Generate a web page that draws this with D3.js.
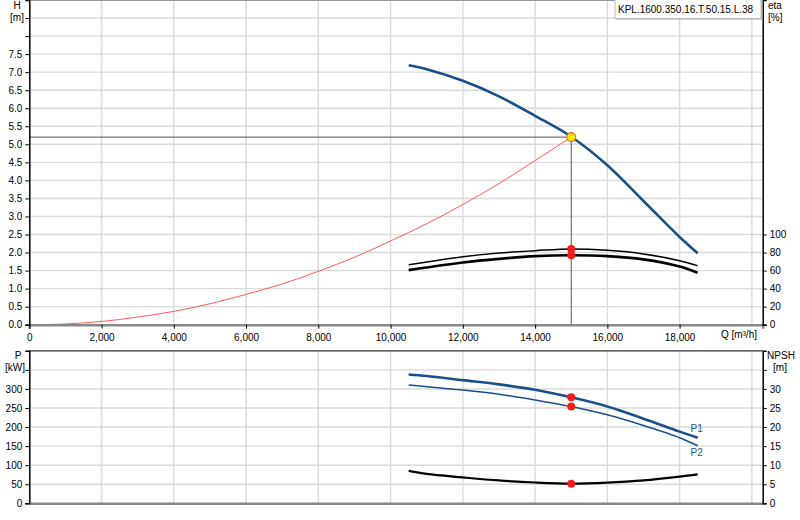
<!DOCTYPE html>
<html>
<head>
<meta charset="utf-8">
<script src="https://cdn.jsdelivr.net/npm/d3@7"></script>
<style>
  body { margin: 0; background: #fff; }
  svg { display: block; font-family: "Liberation Sans", Arial, sans-serif; }
</style>
</head>
<body>
<svg id="chart" width="800" height="520"></svg>
<script>
// flow rate points of the pump curves [m3/h]
var qPump = [10500, 11000, 12000, 13000, 14000, 15000, 16000, 17000, 18000, 18500];
// head [m]
var head = [7.19, 7.08, 6.76, 6.33, 5.79, 5.21, 4.42, 3.43, 2.43, 1.98];
// efficiencies [%]
var etaUpper = [66.5, 69.5, 75.3, 79.5, 82, 84, 82.5, 78.5, 71, 65.5];
var etaLower = [60.5, 63.5, 69, 73, 76, 77, 76, 72.4, 64.5, 57.6];
// power [kW]
var p1 = [338, 334, 323, 312, 298, 278, 254, 222, 188, 172];
var p2 = [310, 306, 297, 286, 271, 254, 232, 204, 172, 151];
// npsh [m]
var npsh = [8.5, 7.7, 6.8, 6.0, 5.45, 5.15, 5.4, 6.0, 7.0, 7.6];
// system curve
var qSystem = [0, 1000, 2000, 3000, 4000, 5000, 6000, 7000, 8000, 9000, 10000, 11000, 12000, 13000, 14000, 15000];
var hSystem = [0, 0.02, 0.09, 0.21, 0.37, 0.58, 0.84, 1.13, 1.48, 1.87, 2.32, 2.8, 3.33, 3.91, 4.55, 5.2];
// operating point
var duty = { q: 15000, h: 5.2, etaU: 84, etaL: 77, p1: 278, p2: 254, npsh: 5.15 };

var xTicks = [0, 2000, 4000, 6000, 8000, 10000, 12000, 14000, 16000, 18000];
var etaTicks = [0, 20, 40, 60, 80, 100];
var pumpName = "KPL.1600.350.16.T.50.15.L.38";

var blue = "#1b4f8c",
    grid = "#dadada",
    left = 29.3,
    right = 762.7,
    font = "10px";

var svg = d3.select("#chart");

var x = d3.scaleLinear().domain([0, 20300]).range([left, right]);
var yH = d3.scaleLinear().domain([0, 9]).range([324.7, 0]);
var yEta = d3.scaleLinear().domain([0, 360]).range([324.7, 0]);
var yP = d3.scaleLinear().domain([0, 400]).range([503.3, 350.8]);
var yN = d3.scaleLinear().domain([0, 40]).range([503.3, 350.8]);

function gridLines(g, y, yTop, yBottom, hValues) {
    g.append("g").selectAll("line")
        .data(d3.range(2000, 20001, 2000))
        .join("line")
        .attr("x1", d => x(d)).attr("x2", d => x(d))
        .attr("y1", yTop).attr("y2", yBottom)
        .attr("stroke", grid).attr("stroke-width", 1.4);
    g.append("g").selectAll("line")
        .data(hValues)
        .join("line")
        .attr("x1", left).attr("x2", right)
        .attr("y1", d => y(d)).attr("y2", d => y(d))
        .attr("stroke", grid).attr("stroke-width", 1.4);
}

function styleAxis(g) {
    g.selectAll("text").attr("font-size", font).attr("fill", "#000")
        .attr("font-family", "Liberation Sans, Arial, sans-serif");
    g.selectAll(".tick line").attr("stroke", "#000");
}

function curve(g, xs, ys, yScale, color, width) {
    var line = d3.line()
        .x(d => x(d[0]))
        .y(d => yScale(d[1]))
        .curve(d3.curveCatmullRom.alpha(0.5));
    g.append("path")
        .datum(xs.map((q, i) => [q, ys[i]]))
        .attr("d", line)
        .attr("fill", "none")
        .attr("stroke", color)
        .attr("stroke-width", width)
        .attr("stroke-linecap", "butt");
}

function dot(g, cx, cy) {
    g.append("circle")
        .attr("cx", cx).attr("cy", cy).attr("r", 4)
        .attr("fill", "#ff1a1a");
}

// ---- top chart: head & efficiency
var headChart = svg.append("g").attr("id", "head-chart");
gridLines(headChart, yH, 0, 324.7, d3.range(0.5, 9.01, 0.5));

headChart.append("line")
    .attr("x1", left).attr("x2", right).attr("y1", 0.5).attr("y2", 0.5)
    .attr("stroke", "#999").attr("stroke-width", 1);

// duty lines
headChart.append("line")
    .attr("x1", left).attr("x2", x(duty.q))
    .attr("y1", yH(duty.h)).attr("y2", yH(duty.h))
    .attr("stroke", "#555").attr("stroke-width", 1);
headChart.append("line")
    .attr("x1", x(duty.q)).attr("x2", x(duty.q))
    .attr("y1", yH(duty.h)).attr("y2", yH(0))
    .attr("stroke", "#555").attr("stroke-width", 1);

curve(headChart, qSystem, hSystem, yH, "#ff5a5a", 1);
curve(headChart, qPump, etaUpper, yEta, "#000", 1.5);
curve(headChart, qPump, etaLower, yEta, "#000", 2.6);
curve(headChart, qPump, head, yH, blue, 2.6);

dot(headChart, x(duty.q), yEta(duty.etaU));
dot(headChart, x(duty.q), yEta(duty.etaL));
headChart.append("circle")
    .attr("cx", x(duty.q)).attr("cy", yH(duty.h)).attr("r", 4.5)
    .attr("fill", "#ffe600").attr("stroke", "#f07020").attr("stroke-width", 1.2);

var xAxis = headChart.append("g")
    .attr("transform", "translate(0," + yH(0) + ")")
    .call(d3.axisBottom(x).tickValues(xTicks).tickSize(4).tickPadding(3).tickFormat(d3.format(",")));
xAxis.select(".domain").attr("stroke", "#888").attr("stroke-width", 2.5);
styleAxis(xAxis);
xAxis.selectAll("text").attr("dy", "0.9em");
headChart.append("text")
    .attr("x", 757).attr("y", 338)
    .attr("text-anchor", "end").attr("font-size", font)
    .text("Q [m³/h]");

var hAxis = headChart.append("g")
    .attr("transform", "translate(" + left + ",0)")
    .call(d3.axisLeft(yH).tickValues(d3.range(0, 8.51, 0.5)).tickSize(4).tickPadding(3)
        .tickFormat(d => d <= 7.5 ? d3.format(".1f")(d) : ""));
hAxis.select(".domain").attr("stroke", "#000").attr("stroke-width", 1.5);
styleAxis(hAxis);

var etaAxis = headChart.append("g")
    .attr("transform", "translate(" + right + ",0)")
    .call(d3.axisRight(yEta).tickValues(etaTicks).tickSize(4).tickPadding(3));
etaAxis.select(".domain").attr("stroke", "#000").attr("stroke-width", 1.5);
styleAxis(etaAxis);

headChart.append("text").attr("x", 17).attr("y", 9).attr("text-anchor", "middle")
    .attr("font-size", font).text("H");
headChart.append("text").attr("x", 17).attr("y", 21).attr("text-anchor", "middle")
    .attr("font-size", font).text("[m]");
headChart.append("text").attr("x", 768).attr("y", 9)
    .attr("font-size", font).text("eta");
headChart.append("text").attr("x", 768).attr("y", 21)
    .attr("font-size", font).text("[%]");

// pump name box
var nameBox = headChart.append("g");
nameBox.append("rect")
    .attr("x", 616.5).attr("y", -1).attr("width", 146).attr("height", 20.5)
    .attr("fill", "#aaa");
nameBox.append("rect")
    .attr("x", 615).attr("y", -2).attr("width", 146).attr("height", 20.5)
    .attr("fill", "#fff").attr("stroke", "#bbb").attr("stroke-width", 1);
nameBox.append("text")
    .attr("x", 618).attr("y", 12.5)
    .attr("font-size", font).text(pumpName);

// ---- bottom chart: power & npsh
var powerChart = svg.append("g").attr("id", "power-chart");
gridLines(powerChart, yP, 350.8, 503.3, d3.range(50, 351, 50));

powerChart.append("line")
    .attr("x1", left).attr("x2", right).attr("y1", 350.8).attr("y2", 350.8)
    .attr("stroke", "#333").attr("stroke-width", 1.3);

curve(powerChart, qPump, npsh, yN, "#000", 2.2);
curve(powerChart, qPump, p2, yP, blue, 1.5);
curve(powerChart, qPump, p1, yP, blue, 2.6);

dot(powerChart, x(duty.q), yP(duty.p1));
dot(powerChart, x(duty.q), yP(duty.p2));
dot(powerChart, x(duty.q), yN(duty.npsh));

powerChart.append("text")
    .attr("x", x(qPump[qPump.length - 1]) - 1).attr("y", yP(p1[p1.length - 1]) - 6)
    .attr("text-anchor", "middle").attr("font-size", font).attr("fill", blue)
    .text("P1");
powerChart.append("text")
    .attr("x", x(qPump[qPump.length - 1]) - 1).attr("y", yP(p2[p2.length - 1]) + 10)
    .attr("text-anchor", "middle").attr("font-size", font).attr("fill", blue)
    .text("P2");

var xAxis2 = powerChart.append("g")
    .attr("transform", "translate(0," + yP(0) + ")")
    .call(d3.axisBottom(x).tickValues([]).tickSize(0));
xAxis2.select(".domain").attr("stroke", "#888").attr("stroke-width", 2.5);

var pAxis = powerChart.append("g")
    .attr("transform", "translate(" + left + ",0)")
    .call(d3.axisLeft(yP).tickValues(d3.range(0, 351, 50)).tickSize(4).tickPadding(3)
        .tickFormat(d => d <= 300 ? d : ""));
pAxis.select(".domain").attr("stroke", "#000").attr("stroke-width", 1.5);
styleAxis(pAxis);

var nAxis = powerChart.append("g")
    .attr("transform", "translate(" + right + ",0)")
    .call(d3.axisRight(yN).tickValues(d3.range(0, 36, 5)).tickSize(4).tickPadding(3)
        .tickFormat(d => d <= 30 ? d : ""));
nAxis.select(".domain").attr("stroke", "#000").attr("stroke-width", 1.5);
styleAxis(nAxis);

powerChart.append("text").attr("x", 18).attr("y", 359).attr("text-anchor", "middle")
    .attr("font-size", font).text("P");
powerChart.append("text").attr("x", 15).attr("y", 371).attr("text-anchor", "middle")
    .attr("font-size", font).text("[kW]");
powerChart.append("text").attr("x", 781).attr("y", 359).attr("text-anchor", "middle")
    .attr("font-size", font).text("NPSH");
powerChart.append("text").attr("x", 780).attr("y", 371).attr("text-anchor", "middle")
    .attr("font-size", font).text("[m]");
</script>
</body>
</html>
